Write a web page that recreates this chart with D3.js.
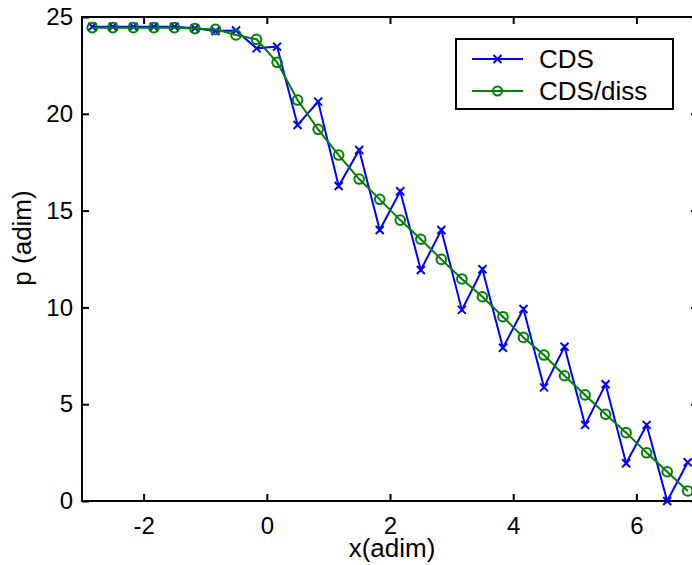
<!DOCTYPE html>
<html>
<head>
<meta charset="utf-8">
<script src="https://cdn.jsdelivr.net/npm/d3@7"></script>
<style>
  html, body { margin: 0; padding: 0; background: #fff; }
  svg { display: block; font-family: "Liberation Sans", Arial, sans-serif; }
</style>
</head>
<body>
<svg id="chart" width="692" height="565"></svg>
<script>
// ---- data ----
const xValues = d3.range(30).map(k => -3 + (k + 0.5) / 3);
const cds = [24.5, 24.5, 24.5, 24.5, 24.5, 24.42, 24.28, 24.3, 23.38, 23.47,
             19.42, 20.63, 16.27, 18.13, 14.0, 16.0, 11.93, 14.0, 9.87, 11.97,
             7.92, 9.92, 5.87, 7.97, 3.93, 6.03, 1.95, 3.93, 0.0, 2.0];
const cdsDiss = [24.45, 24.45, 24.45, 24.45, 24.45, 24.4, 24.36, 24.07, 23.85, 22.66,
                 20.71, 19.2, 17.87, 16.63, 15.58, 14.51, 13.52, 12.48, 11.47, 10.55,
                 9.52, 8.45, 7.54, 6.47, 5.48, 4.48, 3.53, 2.49, 1.51, 0.52];
const xTicks = [-2, 0, 2, 4, 6];
const yTicks = [0, 5, 10, 15, 20, 25];
const seriesNames = ["CDS", "CDS/diss"];
const xLabel = "x(adim)";
const yLabel = "p (adim)";

// ---- layout ----
const svg = d3.select("#chart");
const L = 82, R = 698, T = 17, B = 501;
const x = d3.scaleLinear().domain([-3, 7]).range([L, R]);
const y = d3.scaleLinear().domain([0, 25]).range([B, T]);
const tick = 7;
const blue = "#0000ff", green = "#008000";
const fmt = d => String(d);

function styleAxis(g) {
  g.select(".domain").remove();
  g.selectAll(".tick line").attr("stroke", "#000").attr("stroke-width", 2);
  g.selectAll(".tick text").attr("fill", "#000").attr("font-size", 24)
    .attr("font-family", '"Liberation Sans", Arial, sans-serif');
}

svg.append("g").attr("transform", `translate(0,${B})`)
  .call(d3.axisBottom(x).tickValues(xTicks).tickSizeInner(-tick).tickSizeOuter(0).tickPadding(16).tickFormat(fmt))
  .call(styleAxis);
svg.append("g").attr("transform", `translate(0,${T})`)
  .call(d3.axisTop(x).tickValues(xTicks).tickSizeInner(-tick).tickSizeOuter(0).tickFormat(""))
  .call(styleAxis);
svg.append("g").attr("transform", `translate(${L},0)`)
  .call(d3.axisLeft(y).tickValues(yTicks).tickSizeInner(-tick).tickSizeOuter(0).tickPadding(9).tickFormat(fmt))
  .call(styleAxis);
svg.append("g").attr("transform", `translate(${R},0)`)
  .call(d3.axisRight(y).tickValues(yTicks).tickSizeInner(-tick).tickSizeOuter(0).tickFormat(""))
  .call(styleAxis);

svg.append("rect").attr("x", L).attr("y", T).attr("width", R - L).attr("height", B - T)
  .attr("fill", "none").attr("stroke", "#000").attr("stroke-width", 2);

// ---- series ----
const line = d3.line().x(d => x(d[0])).y(d => y(d[1]));
const cdsPts = xValues.map((v, i) => [v, cds[i]]);
const dissPts = xValues.map((v, i) => [v, cdsDiss[i]]);

function xMarker(g, cx, cy, s, color) {
  g.append("path")
    .attr("d", `M${cx - s},${cy - s}L${cx + s},${cy + s}M${cx - s},${cy + s}L${cx + s},${cy - s}`)
    .attr("stroke", color).attr("stroke-width", 2).attr("fill", "none");
}

const gBlue = svg.append("g");
gBlue.append("path").datum(cdsPts).attr("d", line)
  .attr("fill", "none").attr("stroke", blue).attr("stroke-width", 2);
cdsPts.forEach(p => xMarker(gBlue, x(p[0]), y(p[1]), 4, blue));

const gGreen = svg.append("g");
gGreen.append("path").datum(dissPts).attr("d", line)
  .attr("fill", "none").attr("stroke", green).attr("stroke-width", 2);
gGreen.selectAll("circle").data(dissPts).join("circle")
  .attr("cx", d => x(d[0])).attr("cy", d => y(d[1])).attr("r", 4.8)
  .attr("fill", "none").attr("stroke", green).attr("stroke-width", 2);

// ---- labels ----
svg.append("text").attr("x", 392).attr("y", 557).attr("text-anchor", "middle")
  .attr("font-size", 26).text(xLabel);
svg.append("text").attr("transform", "translate(31,238) rotate(-90)")
  .attr("text-anchor", "middle").attr("font-size", 26).text(yLabel);

// ---- legend ----
const lg = svg.append("g");
lg.append("rect").attr("x", 456).attr("y", 39).attr("width", 217).attr("height", 70)
  .attr("fill", "#fff").attr("stroke", "#000").attr("stroke-width", 2);
const legendRows = [
  { name: seriesNames[0], color: blue, ly: 59, ty: 68, type: "x" },
  { name: seriesNames[1], color: green, ly: 91, ty: 100, type: "o" }
];
legendRows.forEach(r => {
  lg.append("line").attr("x1", 472).attr("x2", 523).attr("y1", r.ly).attr("y2", r.ly)
    .attr("stroke", r.color).attr("stroke-width", 2);
  if (r.type === "x") xMarker(lg, 497.5, r.ly, 4, r.color);
  else lg.append("circle").attr("cx", 497.5).attr("cy", r.ly).attr("r", 4.5)
    .attr("fill", "none").attr("stroke", r.color).attr("stroke-width", 2);
  lg.append("text").attr("x", 539).attr("y", r.ty).attr("font-size", 26).text(r.name);
});
</script>
</body>
</html>
